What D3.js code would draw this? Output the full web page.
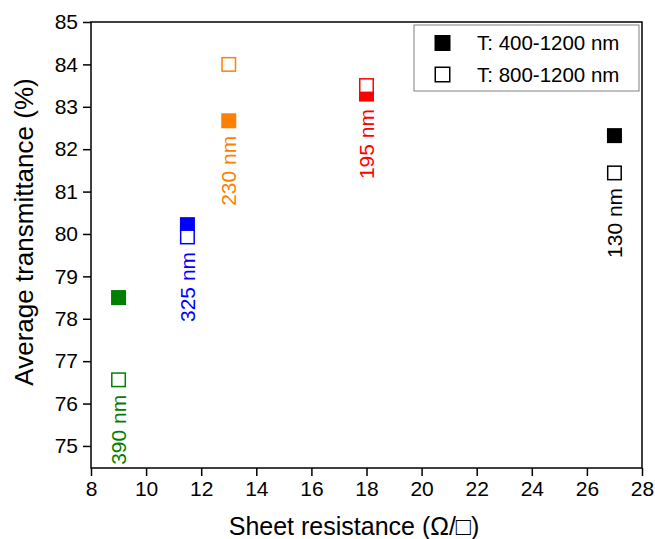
<!DOCTYPE html>
<html>
<head>
<meta charset="utf-8">
<script src="https://cdn.jsdelivr.net/npm/d3@7"></script>
<style>
  body { margin: 0; background: #fff; }
  text { font-family: Arial, "Liberation Sans", sans-serif; }
</style>
</head>
<body>
<div id="chart"></div>
<script>
// Sample thickness labels, colours and sheet resistance
const samples = ['390 nm', '325 nm', '230 nm', '195 nm', '130 nm'];
const colors = ['#008000', '#0000ff', '#ff8000', '#ff0000', '#000000'];
const resistance = [9, 11.5, 13, 18, 27];
// Average transmittance for the two wavelength ranges
const trans400 = [78.5, 80.22, 82.67, 83.3, 82.32];
const trans800 = [76.56, 79.93, 84.0, 83.5, 81.44];

const xTicks = [8, 10, 12, 14, 16, 18, 20, 22, 24, 26, 28];
const yTicks = [75, 76, 77, 78, 79, 80, 81, 82, 83, 84, 85];
const legendLabels = ['T: 400-1200 nm', 'T: 800-1200 nm'];

const W = 655, H = 539;
const margin = {top: 22, right: 13, bottom: 71, left: 91};
const width = W - margin.left - margin.right,
  height = H - margin.top - margin.bottom;

const svg = d3.select('#chart')
  .append('svg')
  .attr('width', W)
  .attr('height', H)
  .append('g')
  .attr('transform', 'translate(' + margin.left + ',' + margin.top + ')');

const x = d3.scaleLinear().domain([8, 28]).range([0, width]);
const y = d3.scaleLinear().domain([74.48, 85]).range([height, 0]);

// frame
svg.append('rect')
  .attr('width', width)
  .attr('height', height)
  .attr('fill', 'none')
  .attr('stroke', '#000')
  .attr('stroke-width', 1.5);

const xAxis = svg.append('g')
  .attr('transform', 'translate(0,' + height + ')')
  .call(d3.axisBottom(x).tickValues(xTicks).tickSize(8).tickPadding(5).tickFormat(d3.format('d')));
const yAxis = svg.append('g')
  .call(d3.axisLeft(y).tickValues(yTicks).tickSize(8).tickPadding(5).tickFormat(d3.format('d')));
[xAxis, yAxis].forEach(a => {
  a.select('.domain').remove();
  a.selectAll('line').attr('stroke-width', 1.5);
  a.selectAll('text').style('font-size', '21px').attr('fill', '#000')
    .style('font-family', 'Arial, "Liberation Sans", sans-serif');
});

// axis titles
svg.append('text')
  .attr('x', 354 - margin.left)
  .attr('y', 535 - margin.top)
  .attr('text-anchor', 'middle')
  .style('font-size', '25px')
  .text('Sheet resistance (\u03A9/\u25A1)');
svg.append('text')
  .attr('transform', 'rotate(-90)')
  .attr('x', -(232 - margin.top))
  .attr('y', 33 - margin.left)
  .attr('text-anchor', 'middle')
  .style('font-size', '26px')
  .text('Average transmittance (%)');

const S = 15;
const data = samples.map((s, i) => ({
  label: s, color: colors[i], r: resistance[i], t1: trans400[i], t2: trans800[i]
}));

// filled squares
svg.selectAll('.filled')
  .data(data)
  .enter()
  .append('rect')
  .attr('x', d => x(d.r) - S / 2)
  .attr('y', d => y(d.t1) - S / 2)
  .attr('width', S)
  .attr('height', S)
  .attr('fill', d => d.color);

// open squares
svg.selectAll('.open')
  .data(data)
  .enter()
  .append('rect')
  .attr('x', d => x(d.r) - S / 2 + 0.75)
  .attr('y', d => y(d.t2) - S / 2 + 0.75)
  .attr('width', S - 1.5)
  .attr('height', S - 1.5)
  .attr('fill', '#fff')
  .attr('stroke', d => d.color)
  .attr('stroke-width', 1.5);

// thickness labels below the lower marker
svg.selectAll('.lbl')
  .data(data)
  .enter()
  .append('text')
  .attr('transform', d => 'translate(' + x(d.r) + ',' + (y(Math.min(d.t1, d.t2)) + 15) + ') rotate(-90)')
  .attr('text-anchor', 'end')
  .attr('dy', '0.35em')
  .attr('fill', d => d.color)
  .style('font-size', '21px')
  .text(d => d.label);

// legend
const lg = svg.append('g').attr('transform', 'translate(' + (414 - margin.left) + ',' + (25 - margin.top) + ')');
lg.append('rect')
  .attr('width', 225)
  .attr('height', 66)
  .attr('fill', '#fff')
  .attr('stroke', '#808080')
  .attr('stroke-width', 1);
const LS = 16;
legendLabels.forEach((l, i) => {
  const cy = 18 + i * 31.5;
  if (i === 0) {
    lg.append('rect').attr('x', 28.5 - LS / 2).attr('y', cy - LS / 2).attr('width', LS).attr('height', LS).attr('fill', '#000');
  } else {
    lg.append('rect').attr('x', 28.5 - LS / 2 + 0.75).attr('y', cy - LS / 2 + 0.75).attr('width', LS - 1.5).attr('height', LS - 1.5)
      .attr('fill', '#fff').attr('stroke', '#000').attr('stroke-width', 1.5);
  }
  lg.append('text')
    .attr('x', 63)
    .attr('y', cy)
    .attr('dy', '0.35em')
    .style('font-size', '20.5px')
    .text(l);
});
</script>
</body>
</html>
